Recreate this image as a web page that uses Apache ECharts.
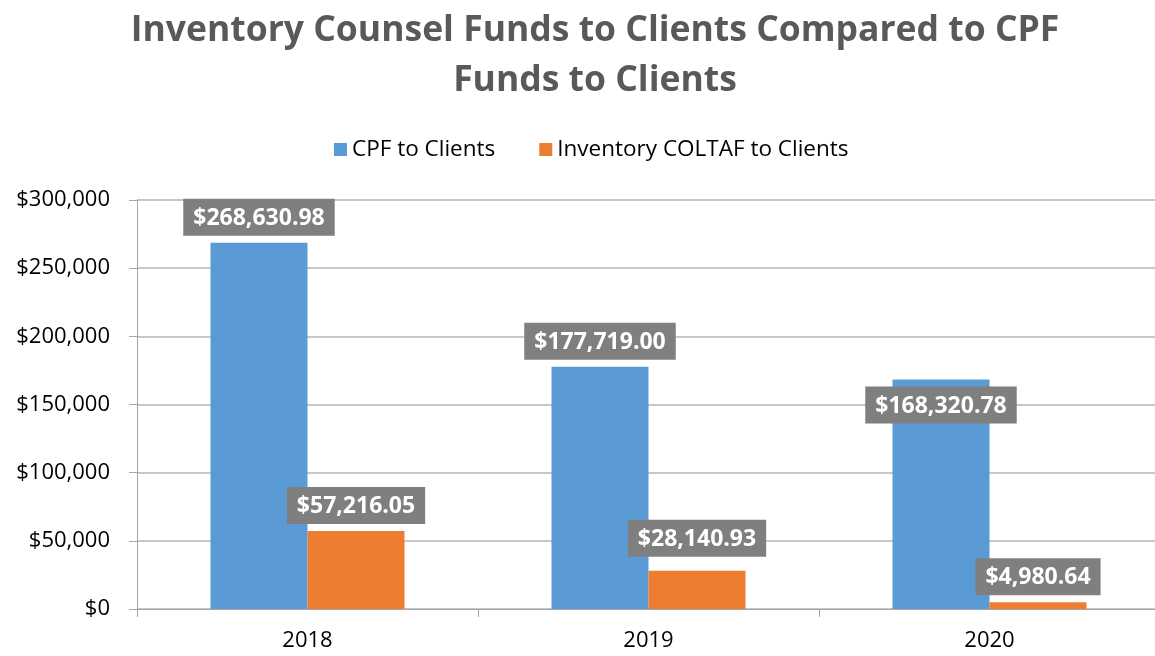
<!DOCTYPE html>
<html>
<head>
<meta charset="utf-8">
<script src="https://cdn.jsdelivr.net/npm/echarts@6/dist/echarts.min.js"></script>
<style>
html,body{margin:0;padding:0;background:#fff;}
#chartID{width:1155px;height:656px;}
</style>
</head>
<body>
<div id="chartID"></div>
<script>
// categories and values
var yearArray = ["2018", "2019", "2020"];
var cpfArray = [268630.98, 177719.00, 168320.78];
var coltafArray = [57216.05, 28140.93, 4980.64];
var seriesNameArray = ["CPF to Clients", "Inventory COLTAF to Clients"];
// label placement per bar (Excel moved a few of them)
var cpfLabelPos = ["top", "top", "insideTop"];
var coltafLabelDist = [7, 14, 7];

var bodyFont = "'Open Sans', 'Liberation Sans', sans-serif";

function money(v, dec){
	return "$" + v.toLocaleString("en-US", {minimumFractionDigits: dec, maximumFractionDigits: dec});
}

var labelStyle = {
	show: true,
	color: "#fff",
	fontWeight: "bold",
	fontSize: 23,
	fontFamily: bodyFont,
	backgroundColor: "#7f7f7f",
	padding: [8, 10, 6, 10],
	formatter: function(p){ return money(p.value, 2); }
};

var cpfData = [];
for(var i=0;i<cpfArray.length;i++){
	cpfData.push({value: cpfArray[i], label: {position: cpfLabelPos[i], distance: 7}});
}
var coltafData = [];
for(var j=0;j<coltafArray.length;j++){
	coltafData.push({value: coltafArray[j], label: {position: "top", distance: coltafLabelDist[j]}});
}

var chart = echarts.init(document.getElementById("chartID"));
var option = {
	animation: false,
	color: ["#5B9BD5", "#ED7D31"],
	title: {
		text: "Inventory Counsel Funds to Clients Compared to CPF\nFunds to Clients",
		left: 590,
		textAlign: "center",
		top: 1,
		textStyle: {
			color: "#595959",
			fontSize: 35.5,
			fontWeight: "bold",
			lineHeight: 50,
			fontFamily: "'Open Sans', sans-serif"
		}
	},
	legend: {
		data: seriesNameArray,
		top: 133,
		left: 329,
		itemWidth: 13,
		itemHeight: 13,
		itemGap: 44,
		icon: "rect",
		textStyle: {fontSize: 22.5, color: "#000", fontFamily: bodyFont}
	},
	grid: {left: 137, width: 1023, top: 200, bottom: 47, containLabel: false, outerBoundsMode: "none"},
	xAxis: {
		type: "category",
		data: yearArray,
		axisLine: {lineStyle: {color: "#a6a6a6"}},
		axisTick: {show: true, length: 8, lineStyle: {color: "#a6a6a6"}},
		axisLabel: {fontSize: 22, color: "#000", margin: 21, fontFamily: bodyFont}
	},
	yAxis: {
		type: "value",
		min: 0,
		max: 300000,
		interval: 50000,
		axisLine: {show: true, lineStyle: {color: "#a6a6a6"}},
		axisTick: {show: true, length: 8, lineStyle: {color: "#a6a6a6"}},
		splitLine: {lineStyle: {color: "#b4b4b4", width: 1.5}},
		axisLabel: {
			fontSize: 22, color: "#000", margin: 27, fontFamily: bodyFont,
			formatter: function(v){ return money(v, 0); }
		}
	},
	series: [
		{name: seriesNameArray[0], type: "bar", barWidth: 97, barGap: "0%", data: cpfData, label: labelStyle},
		{name: seriesNameArray[1], type: "bar", barWidth: 97, barGap: "0%", data: coltafData, label: labelStyle}
	]
};
chart.setOption(option);
</script>
</body>
</html>
